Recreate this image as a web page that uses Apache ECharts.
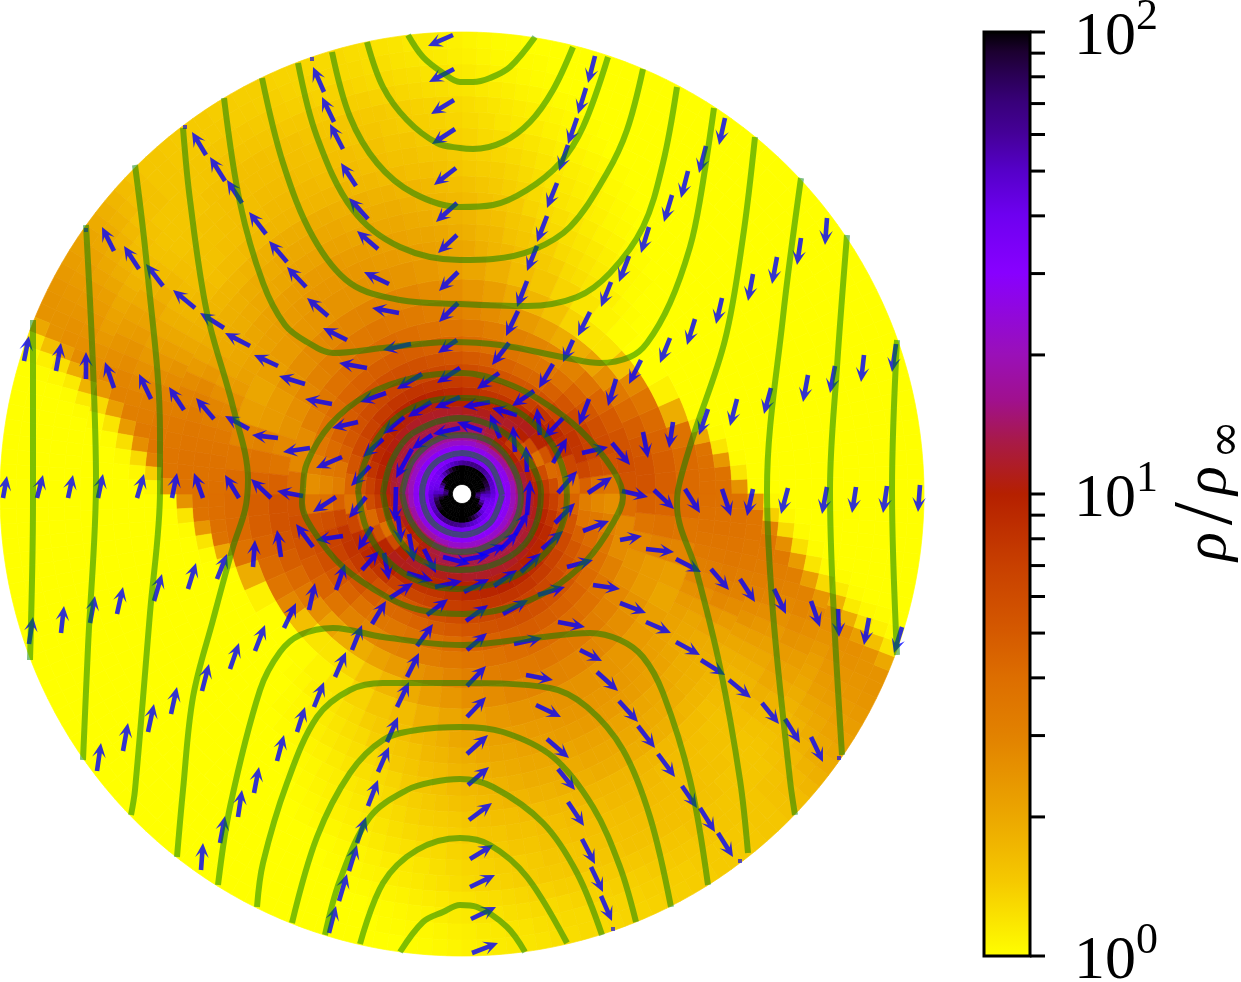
<!DOCTYPE html>
<html>
<head>
<meta charset="utf-8">
<script src="https://cdn.jsdelivr.net/npm/echarts@6/dist/echarts.min.js"></script>
<style>
  html, body { margin: 0; background: #fff; }
  #chart { width: 1241px; height: 982px; }
</style>
</head>
<body>
<div id="chart"></div>
<script>
// colour scale
const cbValues = [1, 1.47, 2, 3, 4, 5, 7, 10, 13, 16, 20, 30, 40, 50, 60, 70, 80, 90, 100]
const cbColors = ['#FFFF00', '#F5C800', '#ECA800', '#E28200', '#DD6E00', '#D55A00', '#C84000', '#B52000', '#A81A48', '#A0108F',
  '#9A10B8', '#8800FF', '#6E00F0', '#5500C8', '#450098', '#38007A', '#2A0055', '#1C0030', '#000000']
const cbTicks = [1, 2, 3, 4, 5, 6, 7, 8, 9, 10, 20, 30, 40, 50, 60, 70, 80, 90, 100]
const cbLabels = [1, 10, 100]

// disc centre and polar rings of the density map. The field is point symmetric,
// so each ring holds the half turn from east going anticlockwise.
// ringCells = cells in the half turn, ringStart = first stored cell, cells not stored are rho = 1
const discCentre = [462, 494]
const ringEdges = [9.5, 14, 19, 24, 29, 34, 39, 44, 49, 54, 60, 66, 72, 80, 88, 97, 107, 118, 130, 143, 158, 175, 194, 215, 238, 254, 270, 286, 302, 318, 334, 350, 366, 382, 398, 414, 430, 446, 462]
const ringCells = [12, 24, 24, 24, 24, 12, 12, 12, 12, 12, 18, 18, 18, 18, 18, 18, 18, 24, 24, 24, 24, 30, 30, 30, 60, 60, 60, 60, 72, 72, 72, 72, 72, 96, 96, 96, 96, 96]
const ringStart = [0, 0, 0, 0, 0, 0, 0, 0, 0, 0, 0, 0, 0, 0, 0, 0, 0, 0, 0, 0, 0, 0, 0, 0, 0, 0, 0, 17, 22, 23, 24, 25, 27, 37, 39, 41, 42, 44]
const rhoRings = [
  [100, 100, 100, 100, 100, 100, 100, 100, 100, 100, 100, 100],
  [80, 100, 100, 100, 100, 100, 100, 100, 100, 100, 100, 100, 100, 100, 100, 100, 100, 100, 100, 100, 100, 100, 80, 70],
  [70, 90, 100, 100, 100, 100, 100, 100, 100, 100, 100, 100, 100, 100, 100, 100, 100, 100, 100, 95, 75, 55, 45, 50],
  [60, 75, 85, 90, 95, 100, 100, 100, 100, 100, 100, 100, 100, 100, 95, 85, 70, 55, 45, 40, 38, 40, 42, 50],
  [46, 48, 50, 52, 55, 58, 62, 65, 66, 66, 64, 62, 58, 54, 50, 46, 42, 40, 38, 36, 36, 38, 40, 43],
  [31, 31, 32, 33, 36, 38, 36, 34, 32, 30, 30, 30],
  [30, 29, 28, 28, 29, 30, 30, 30, 30, 30, 30, 30],
  [28, 27, 26, 26, 27, 29, 29, 29, 29, 29, 28, 28],
  [20, 18, 17, 18, 20, 22, 22, 22, 22, 22, 21, 20],
  [15, 14, 13, 13, 15, 17, 17, 17, 17, 17, 16, 16],
  [12.5, 12, 11, 10, 9.5, 10.5, 12.5, 14, 14, 14, 14, 14, 14, 14, 14, 14, 13.5, 13],
  [11, 10.5, 9, 7.5, 7.5, 10, 12, 13, 13, 13, 13, 13, 13, 13, 12.5, 12.5, 12, 12],
  [9.5, 8.5, 6.5, 5, 7, 10.5, 12, 12, 12, 12, 12.5, 12.5, 12.5, 12, 12, 11.5, 11, 10.5],
  [7.5, 6, 3.8, 6, 10, 11.5, 11.5, 11, 11, 11.5, 11.5, 11.5, 11.5, 11, 10.5, 10, 9.5, 8.5],
  [6, 4.2, 5.5, 9.5, 11, 11, 10, 9.5, 10, 10, 10.5, 10.5, 10.5, 10, 9.5, 9, 8, 7],
  [4.2, 4.4, 8, 10, 10, 8.8, 8, 8, 8.5, 9, 9.5, 9.8, 9.5, 8.8, 8, 7.2, 6.5, 5.5],
  [3.6, 6.5, 8.5, 9, 8, 7, 6.6, 6.8, 7.2, 7.5, 7.8, 8, 7.9, 7.4, 6.8, 6.2, 5.4, 4.4],
  [4.6, 6.5, 7.8, 8, 7.5, 6.5, 5.6, 5.2, 5.2, 5.4, 5.7, 6, 6.2, 6.4, 6.6, 6.8, 6.7, 6.4, 6, 5.6, 5.2, 4.6, 3.6, 3.2],
  [3.8, 5.8, 6.8, 6.8, 6.2, 5.4, 4.7, 4.3, 4.3, 4.5, 4.8, 5, 5.3, 5.5, 5.7, 5.8, 5.7, 5.5, 5.2, 4.9, 4.5, 4.1, 3.4, 2.8],
  [3.5, 5.5, 6, 5.8, 5.2, 4.5, 3.8, 3.5, 3.5, 3.7, 3.9, 4.1, 4.4, 4.6, 4.8, 4.9, 4.8, 4.6, 4.4, 4.1, 3.8, 3.5, 3.1, 2.6],
  [5.5, 5.8, 5.5, 5, 4.4, 3.6, 3, 2.8, 2.9, 3, 3.2, 3.4, 3.6, 3.8, 4, 4.1, 4.1, 4, 3.8, 3.5, 3.1, 2.7, 2.8, 4],
  [5.5, 5.5, 5.2, 4.8, 4.2, 3.4, 2.6, 2.1, 1.9, 1.9, 2.1, 2.3, 2.5, 2.7, 2.9, 3.1, 3.2, 3.3, 3.4, 3.5, 3.4, 3.3, 3.2, 3, 2.8, 2.6, 2.5, 2.8, 3.6, 4.6],
  [4.8, 4.8, 4.5, 4.2, 3.6, 2.8, 1.6, 1.2, 1.2, 1.35, 1.55, 1.75, 1.95, 2.2, 2.4, 2.6, 2.7, 2.85, 2.9, 2.95, 2.9, 2.85, 2.75, 2.65, 2.5, 2.3, 2.3, 3, 3.8, 4.4],
  [4.2, 4.2, 3.8, 1.9, 1.1, 1, 1, 1.02, 1.08, 1.2, 1.35, 1.5, 1.65, 1.85, 2.05, 2.2, 2.35, 2.45, 2.5, 2.5, 2.5, 2.45, 2.4, 2.3, 2.2, 2.05, 2.2, 2.9, 3.6, 4.1],
  [4, 4, 3.9, 3.7, 2, 1.15, 1, 1, 1, 1, 1, 1, 1, 1, 1, 1.02, 1.05, 1.1, 1.15, 1.2, 1.25, 1.3, 1.4, 1.45, 1.5, 1.6, 1.7, 1.75, 1.85, 2, 2.05, 2.1, 2.15, 2.2, 2.25, 2.3, 2.3, 2.35, 2.4, 2.4, 2.4, 2.4, 2.4, 2.35, 2.3, 2.25, 2.2, 2.15, 2.1, 2.1, 2.15, 2.3, 2.55, 2.85, 3.15, 3.4, 3.6, 3.75, 3.85, 3.95],
  [3.9, 3.8, 2.4, 1.2, 1.02, 1, 1, 1, 1, 1, 1, 1, 1, 1, 1, 1, 1.02, 1.05, 1.1, 1.15, 1.2, 1.25, 1.3, 1.4, 1.45, 1.5, 1.55, 1.7, 1.75, 1.85, 1.9, 2, 2.05, 2.05, 2.1, 2.15, 2.2, 2.25, 2.25, 2.3, 2.3, 2.3, 2.3, 2.25, 2.2, 2.15, 2.1, 2.05, 2, 2, 2.05, 2.25, 2.6, 2.9, 3.2, 3.45, 3.6, 3.75, 3.8, 3.9],
  [2.5, 1.2, 1.02, 1, 1, 1, 1, 1, 1, 1, 1, 1, 1, 1, 1, 1, 1.02, 1.04, 1.08, 1.12, 1.16, 1.2, 1.25, 1.3, 1.35, 1.45, 1.5, 1.6, 1.65, 1.75, 1.8, 1.85, 1.9, 1.95, 2, 2, 2.05, 2.05, 2.1, 2.1, 2.1, 2.1, 2.1, 2.05, 2, 2, 1.95, 1.9, 1.9, 1.95, 2.1, 2.4, 2.8, 3.1, 3.3, 3.5, 3.6, 3.7, 3.8, 3.8],
  [1.02, 1.04, 1.08, 1.1, 1.15, 1.2, 1.25, 1.3, 1.35, 1.45, 1.5, 1.55, 1.65, 1.7, 1.75, 1.8, 1.85, 1.9, 1.9, 1.95, 1.95, 2, 2, 2, 2, 2, 1.95, 1.95, 1.9, 1.85, 1.85, 1.85, 1.9, 2.05, 2.3, 2.7, 3, 3.2, 3.4, 3.5, 3.6, 3.6, 2.4],
  [1.02, 1.04, 1.06, 1.1, 1.13, 1.17, 1.2, 1.25, 1.3, 1.35, 1.4, 1.45, 1.5, 1.55, 1.6, 1.65, 1.7, 1.75, 1.75, 1.8, 1.8, 1.85, 1.85, 1.85, 1.9, 1.9, 1.9, 1.9, 1.9, 1.85, 1.85, 1.8, 1.75, 1.75, 1.75, 1.75, 1.8, 1.85, 2, 2.2, 2.5, 2.7, 3, 3.2, 3.3, 3.45, 3.55, 3, 1.4, 1.05],
  [1.02, 1.04, 1.07, 1.1, 1.13, 1.17, 1.2, 1.25, 1.3, 1.35, 1.4, 1.42, 1.45, 1.5, 1.55, 1.6, 1.6, 1.65, 1.65, 1.7, 1.7, 1.75, 1.75, 1.75, 1.75, 1.75, 1.75, 1.75, 1.7, 1.7, 1.65, 1.65, 1.6, 1.65, 1.7, 1.75, 1.85, 2, 2.2, 2.4, 2.65, 2.9, 3.1, 3.2, 3.35, 2.6, 1.3, 1.05],
  [1.02, 1.04, 1.07, 1.1, 1.13, 1.17, 1.2, 1.25, 1.3, 1.33, 1.37, 1.4, 1.45, 1.5, 1.5, 1.55, 1.55, 1.6, 1.6, 1.65, 1.65, 1.65, 1.7, 1.7, 1.7, 1.7, 1.65, 1.65, 1.6, 1.6, 1.55, 1.55, 1.6, 1.65, 1.75, 1.85, 2, 2.15, 2.35, 2.55, 2.8, 3, 3.15, 2.3, 1.25, 1.03],
  [1.02, 1.04, 1.06, 1.09, 1.12, 1.16, 1.2, 1.23, 1.27, 1.3, 1.35, 1.38, 1.42, 1.45, 1.5, 1.5, 1.55, 1.55, 1.6, 1.6, 1.6, 1.62, 1.65, 1.65, 1.65, 1.62, 1.6, 1.58, 1.55, 1.55, 1.55, 1.6, 1.7, 1.85, 2, 2.1, 2.3, 2.5, 2.7, 2.9, 3, 2.2, 1.2, 1.02],
  [1.02, 1.04, 1.07, 1.1, 1.14, 1.17, 1.2, 1.25, 1.3, 1.33, 1.37, 1.4, 1.42, 1.45, 1.5, 1.5, 1.52, 1.55, 1.55, 1.58, 1.6, 1.6, 1.6, 1.6, 1.58, 1.55, 1.55, 1.52, 1.52, 1.55, 1.65, 1.8, 1.95, 2.1, 2.25, 2.45, 2.6, 2.8, 2.4, 1.3, 1.03],
  [1.02, 1.03, 1.05, 1.07, 1.09, 1.12, 1.14, 1.17, 1.2, 1.23, 1.27, 1.3, 1.33, 1.35, 1.37, 1.4, 1.42, 1.45, 1.45, 1.47, 1.5, 1.5, 1.52, 1.52, 1.55, 1.55, 1.55, 1.58, 1.58, 1.58, 1.58, 1.55, 1.55, 1.52, 1.5, 1.5, 1.5, 1.52, 1.55, 1.62, 1.7, 1.8, 1.9, 2, 2.1, 2.2, 2.35, 2.5, 2.6, 2.65, 1.8, 1.15, 1.02],
  [1.02, 1.03, 1.05, 1.07, 1.09, 1.12, 1.14, 1.17, 1.2, 1.22, 1.25, 1.27, 1.3, 1.32, 1.35, 1.37, 1.4, 1.4, 1.42, 1.45, 1.45, 1.47, 1.47, 1.5, 1.5, 1.52, 1.52, 1.55, 1.55, 1.52, 1.5, 1.5, 1.5, 1.5, 1.5, 1.55, 1.6, 1.65, 1.8, 1.9, 2.05, 2.2, 2.3, 2.4, 2.5, 2.6, 2.7, 1.9, 1.15, 1.02],
  [1.02, 1.03, 1.05, 1.07, 1.09, 1.12, 1.15, 1.17, 1.2, 1.22, 1.25, 1.27, 1.3, 1.3, 1.32, 1.35, 1.37, 1.37, 1.4, 1.4, 1.42, 1.45, 1.45, 1.47, 1.47, 1.5, 1.5, 1.5, 1.5, 1.5, 1.5, 1.55, 1.55, 1.6, 1.7, 1.8, 1.9, 2, 2.1, 2.25, 2.35, 2.45, 2.55, 2.6, 2.2, 1.25, 1.05],
  [1.02, 1.03, 1.04, 1.05, 1.07, 1.1, 1.12, 1.15, 1.17, 1.2, 1.22, 1.25, 1.27, 1.3, 1.3, 1.32, 1.35, 1.35, 1.37, 1.4, 1.4, 1.42, 1.42, 1.45, 1.45, 1.45, 1.47, 1.47, 1.5, 1.5, 1.55, 1.6, 1.7, 1.8, 1.9, 2, 2.1, 2.2, 2.3, 2.4, 2.45, 2.5, 2.5, 1.6, 1.1, 1.02],
  [1.02, 1.03, 1.05, 1.07, 1.1, 1.12, 1.15, 1.17, 1.2, 1.22, 1.25, 1.27, 1.3, 1.3, 1.32, 1.35, 1.35, 1.37, 1.4, 1.4, 1.42, 1.42, 1.45, 1.45, 1.45, 1.47, 1.5, 1.5, 1.55, 1.65, 1.75, 1.85, 1.95, 2.05, 2.15, 2.25, 2.35, 2.45, 2.5, 2.5, 2, 1.2, 1.03]
]

// streamlines, [x, y] in plot units
const streamLines = [
  [[408, 35], [423, 57], [443, 73], [460, 82], [473, 82], [490, 78], [510, 67], [535, 37]],
  [[367, 42], [383, 87], [407, 120], [437, 143], [460, 148], [473, 149], [503, 142], [530, 122], [553, 90], [573, 47]],
  [[332, 52], [350, 117], [377, 163], [413, 193], [460, 207], [493, 205], [527, 190], [560, 163], [583, 127], [608, 57]],
  [[298, 63], [317, 137], [353, 210], [400, 247], [460, 260], [493, 259], [533, 250], [570, 227], [607, 173], [627, 130], [643, 69]],
  [[262, 78], [283, 163], [313, 237], [350, 283], [400, 300], [460, 304], [527, 306], [577, 297], [610, 273], [643, 227], [663, 163], [677, 87]],
  [[224, 98], [240, 203], [263, 283], [285, 325], [307, 342], [333, 353], [383, 348], [450, 342], [500, 345], [567, 358], [600, 363], [630, 357], [647, 343], [670, 303], [690, 247], [700, 200], [714, 108]],
  [[183, 128], [190, 200], [207, 313], [233, 407], [248, 480], [245, 510], [233, 547], [213, 620], [193, 697], [183, 790], [177, 857]],
  [[135, 165], [147, 267], [160, 433], [160, 490], [150, 613], [135, 790], [131, 815]],
  [[86, 225], [93, 367], [96, 480], [88, 647], [83, 760]],
  [[33, 320], [33, 500], [30, 660]],
  [[218, 885], [230, 807], [260, 690], [280, 652], [300, 635], [333, 628], [383, 637], [460, 645], [533, 638], [590, 633], [620, 640], [643, 657], [663, 693], [690, 780], [708, 885]],
  [[257, 907], [263, 863], [287, 783], [317, 717], [350, 690], [383, 683], [460, 683], [550, 688], [587, 707], [623, 750], [650, 817], [671, 907]],
  [[292, 923], [317, 837], [350, 773], [383, 740], [417, 730], [460, 727], [503, 732], [553, 757], [593, 807], [620, 867], [636, 922]],
  [[325, 935], [340, 880], [370, 817], [407, 790], [433, 782], [460, 779], [493, 787], [543, 823], [577, 873], [602, 935]],
  [[360, 944], [383, 883], [417, 850], [460, 838], [490, 845], [527, 877], [567, 943]],
  [[400, 952], [423, 922], [443, 912], [460, 905], [477, 907], [507, 927], [525, 952]],
  [[755, 137], [743, 237], [725, 340], [692, 440], [678, 490], [677, 505], [697, 573], [720, 667], [740, 780], [748, 853]],
  [[801, 178], [783, 317], [767, 490], [773, 613], [790, 780], [795, 815]],
  [[847, 235], [837, 367], [830, 490], [833, 597], [842, 755]],
  [[897, 340], [892, 490], [897, 655]],
  [[303, 488], [307, 463], [330, 425], [367, 395], [413, 378], [463, 373], [503, 382], [540, 400], [580, 430], [613, 470], [623, 497], [613, 523], [587, 560], [550, 590], [507, 608], [463, 614], [420, 610], [387, 597], [343, 567], [313, 530], [302, 503], [303, 488]],
  [[358, 490], [367, 457], [390, 423], [423, 403], [463, 398], [500, 403], [533, 423], [557, 453], [567, 497], [557, 537], [530, 567], [497, 583], [457, 589], [423, 583], [390, 563], [367, 530], [358, 490]],
  [[383, 493], [392, 460], [413, 433], [460, 418], [500, 430], [527, 457], [541, 493], [530, 537], [500, 562], [460, 570], [420, 560], [393, 530], [383, 493]],
  [[402, 493], [413, 460], [440, 438], [463, 435], [493, 443], [513, 467], [521, 497], [510, 530], [483, 548], [460, 552], [430, 543], [410, 520], [402, 493]],
  [[502, 495], [490, 465], [462, 453], [433, 465], [422, 494], [433, 523], [462, 535], [490, 523], [502, 495]]
]

// velocity arrows, [tailX, tailY, headX, headY] in plot units
const arrows = [
  [453, 35, 428, 46], [454, 69, 429, 82], [454, 100, 431, 114], [455, 129, 432, 144], [456, 168, 434, 185], [457, 203, 436, 222], [457, 235, 438, 253], [458, 272, 439, 291], [458, 303, 439, 322], [457, 340, 438, 353], [460, 368, 437, 383],
  [324, 92, 313, 67], [334, 122, 322, 97], [343, 149, 330, 124], [356, 186, 341, 163], [368, 219, 349, 198], [378, 249, 357, 231], [389, 284, 364, 272], [399, 313, 372, 308], [367, 368, 339, 363], [332, 404, 305, 399],
  [305, 384, 279, 376], [278, 366, 254, 355], [250, 346, 225, 333], [224, 328, 200, 313], [195, 308, 173, 290], [163, 286, 146, 264], [139, 269, 124, 246], [114, 251, 102, 227],
  [206, 155, 192, 132], [225, 181, 210, 157], [242, 203, 227, 180], [266, 234, 249, 212], [287, 262, 269, 241], [306, 287, 287, 267], [328, 316, 307, 298], [347, 340, 323, 328],
  [310, 448, 283, 452], [278, 438, 252, 435], [249, 429, 225, 416], [214, 419, 196, 398], [184, 410, 169, 387], [151, 399, 139, 374], [114, 388, 105, 362], [86, 379, 86, 352], [56, 371, 61, 343], [24, 361, 29, 336],
  [303, 496, 277, 491], [271, 498, 251, 479], [239, 498, 225, 475], [203, 498, 194, 473], [172, 498, 177, 473], [137, 498, 144, 474], [98, 498, 103, 474], [68, 498, 73, 475], [37, 498, 43, 475], [3, 498, 7, 476],
  [253, 567, 255, 540], [281, 557, 277, 530], [313, 547, 296, 524], [217, 579, 227, 554], [188, 589, 196, 563], [154, 601, 162, 574], [117, 614, 123, 587], [90, 623, 95, 596], [61, 633, 64, 606], [29, 644, 33, 617],
  [284, 628, 296, 603], [255, 651, 265, 625], [230, 669, 239, 643], [202, 691, 209, 664], [171, 714, 177, 687], [148, 732, 154, 704], [123, 751, 128, 723], [97, 771, 101, 743],
  [309, 610, 315, 583], [336, 590, 345, 564], [362, 570, 379, 551], [372, 624, 386, 601], [390, 598, 413, 583],
  [201, 870, 203, 843], [220, 843, 225, 816], [238, 817, 242, 790], [254, 793, 259, 767], [277, 761, 284, 735], [297, 732, 305, 707], [314, 707, 324, 682], [335, 677, 346, 652], [352, 650, 362, 625],
  [329, 933, 336, 906], [339, 901, 347, 874], [349, 871, 357, 845], [357, 843, 366, 817], [368, 806, 378, 780], [378, 772, 389, 747], [387, 742, 398, 717], [397, 707, 409, 682], [407, 677, 419, 653], [417, 646, 433, 624], [427, 615, 448, 599],
  [472, 953, 498, 943], [471, 919, 496, 907], [470, 887, 495, 875], [470, 859, 493, 845], [469, 820, 492, 803], [468, 785, 489, 767], [467, 754, 488, 735], [467, 717, 486, 697], [467, 686, 486, 666], [467, 650, 487, 633], [466, 621, 488, 605], [464, 592, 489, 579], [435, 587, 462, 581],
  [443, 557, 470, 564], [463, 560, 490, 555], [407, 573, 433, 581], [424, 549, 436, 573], [409, 534, 414, 562], [398, 516, 401, 543], [396, 487, 395, 522], [412, 449, 396, 478], [432, 435, 412, 449], [460, 428, 433, 434], [482, 431, 457, 422],
  [480, 555, 505, 545], [500, 550, 518, 532], [515, 535, 528, 512], [527, 515, 530, 480], [527, 472, 526, 446], [515, 452, 513, 426], [500, 438, 490, 414], [517, 415, 492, 408], [490, 402, 463, 407], [460, 397, 435, 408], [431, 402, 408, 417], [404, 417, 383, 434], [383, 439, 363, 457], [370, 466, 351, 486], [366, 497, 349, 518], [372, 527, 358, 550], [384, 553, 389, 580],
  [494, 586, 517, 570], [521, 572, 541, 553], [542, 549, 563, 531], [555, 523, 575, 503], [558, 493, 577, 471], [553, 463, 567, 438], [540, 435, 537, 408], [563, 418, 544, 438], [534, 391, 512, 406], [499, 373, 477, 389], [553, 364, 539, 388], [509, 343, 492, 365], [589, 399, 579, 425], [616, 379, 608, 406],
  [612, 443, 630, 465], [582, 453, 608, 447], [588, 493, 612, 477], [583, 531, 609, 521], [620, 540, 642, 536], [567, 567, 593, 560], [538, 595, 565, 587], [503, 614, 528, 600], [593, 585, 620, 589], [558, 622, 585, 627], [514, 644, 542, 638],
  [342, 457, 316, 468], [336, 497, 313, 512], [343, 536, 316, 540], [358, 422, 332, 428], [386, 393, 360, 402], [422, 374, 397, 389], [411, 344, 383, 350],
  [595, 56, 588, 83], [586, 88, 578, 114], [577, 118, 568, 144], [568, 145, 559, 171], [557, 183, 547, 208], [547, 216, 537, 242], [537, 246, 527, 271], [527, 281, 517, 307], [518, 311, 506, 336],
  [725, 118, 719, 145], [706, 146, 699, 173], [688, 171, 681, 198], [672, 195, 664, 222], [649, 227, 641, 253], [629, 256, 619, 282], [611, 282, 601, 307], [590, 312, 578, 336], [573, 340, 563, 362],
  [827, 218, 825, 245], [801, 238, 797, 265], [777, 257, 772, 284], [753, 274, 748, 301], [722, 298, 716, 324], [695, 319, 687, 345], [670, 338, 660, 363], [641, 360, 629, 384],
  [896, 344, 892, 372], [864, 355, 861, 382], [835, 366, 830, 393], [808, 375, 803, 402], [771, 388, 764, 414], [737, 399, 730, 426], [708, 409, 699, 435], [673, 422, 669, 448], [643, 432, 648, 458],
  [920, 485, 918, 512], [887, 486, 883, 513], [856, 487, 852, 513], [827, 487, 822, 514], [788, 488, 781, 514], [753, 489, 747, 516], [722, 489, 731, 516], [685, 489, 700, 513], [654, 490, 674, 509], [622, 491, 648, 497],
  [646, 549, 674, 552], [676, 559, 701, 572], [711, 569, 729, 590], [740, 579, 755, 602], [774, 589, 786, 614], [811, 601, 820, 627], [838, 609, 839, 637], [869, 618, 864, 645], [902, 627, 894, 653],
  [620, 603, 646, 613], [646, 622, 671, 633], [676, 642, 700, 655], [701, 660, 725, 675], [729, 680, 751, 698], [762, 703, 779, 724], [785, 719, 800, 743], [811, 737, 823, 762],
  [526, 675, 553, 680], [536, 705, 561, 717], [547, 739, 569, 758], [558, 769, 575, 790], [568, 802, 584, 826], [582, 839, 595, 864], [591, 867, 603, 892], [601, 896, 612, 921],
  [580, 650, 602, 661], [597, 672, 618, 691], [619, 701, 638, 722], [638, 726, 655, 748], [658, 754, 675, 777], [682, 786, 697, 808], [700, 808, 715, 832], [718, 833, 733, 857]
]
const arrowStubs = [[185, 127], [312, 59], [86, 230], [613, 929], [740, 861], [839, 758]]

function rhoColor(v) {
    let i = 0
    while (i < cbValues.length - 2 && v > cbValues[i + 1]) i++
    let f = (Math.log10(v) - Math.log10(cbValues[i])) / (Math.log10(cbValues[i + 1]) - Math.log10(cbValues[i]))
    return echarts.color.lerp(Math.min(1, Math.max(0, f)), [cbColors[i], cbColors[i + 1]])
}

// [rIn, rOut, angleStart, angleEnd, rho], each stored half turn is drawn at both sides of the centre
const cells = []
rhoRings.forEach((ring, r) => {
    let step = 180 / ringCells[r]
    for (let k = 0; k < ringCells[r]; k++) {
        let rho = ring[k - ringStart[r]] || 1
        cells.push([ringEdges[r], ringEdges[r + 1], k * step, (k + 1) * step, rho])
        cells.push([ringEdges[r], ringEdges[r + 1], 180 + k * step, 180 + (k + 1) * step, rho])
    }
})

function renderCell(params, api) {
    let rIn = api.value(0), rOut = api.value(1), a0 = api.value(2), a1 = api.value(3)
    let pts = []
    for (let j = 0; j <= 3; j++) {
        let a = (a0 + (a1 - a0) * j / 3) * Math.PI / 180
        pts.push(api.coord([discCentre[0] + rOut * Math.cos(a), discCentre[1] - rOut * Math.sin(a)]))
    }
    for (let j = 3; j >= 0; j--) {
        let a = (a0 + (a1 - a0) * j / 3) * Math.PI / 180
        pts.push(api.coord([discCentre[0] + rIn * Math.cos(a), discCentre[1] - rIn * Math.sin(a)]))
    }
    let c = rhoColor(api.value(4))
    return { type: 'polygon', shape: { points: pts }, style: { fill: c, stroke: c, lineWidth: 0.7 } }
}

function renderArrow(params, api) {
    let t = api.coord([api.value(0), api.value(1)])
    let h = api.coord([api.value(2), api.value(3)])
    let dx = h[0] - t[0], dy = h[1] - t[1]
    let len = Math.sqrt(dx * dx + dy * dy)
    let ux = dx / len, uy = dy / len
    let at = (s, w) => [t[0] + ux * s - uy * w, t[1] + uy * s + ux * w]
    return {
        type: 'polygon',
        shape: { points: [at(0, 2.3), at(len - 10, 2.3), at(len - 14.5, 6.8), at(len, 0), at(len - 14.5, -6.8), at(len - 10, -2.3), at(0, -2.3)] },
        style: { fill: 'rgba(0,0,255,0.8)' }
    }
}

function renderBar(params, api) {
    let top = api.coord([0, api.value(1)])
    let bottom = api.coord([1, api.value(0)])
    let logMax = Math.log10(cbValues[cbValues.length - 1])
    return {
        type: 'rect',
        shape: { x: top[0], y: top[1], width: bottom[0] - top[0], height: bottom[1] - top[1] },
        style: {
            fill: new echarts.graphic.LinearGradient(0, 1, 0, 0, cbValues.map((v, i) => ({ offset: Math.log10(v) / logMax, color: cbColors[i] }))),
            stroke: '#000',
            lineWidth: 3
        }
    }
}

function renderBarTick(params, api) {
    let p = api.coord([1, api.value(0)])
    return { type: 'line', shape: { x1: p[0], y1: p[1], x2: p[0] + 15, y2: p[1] }, style: { stroke: '#000', lineWidth: 3 } }
}

let chart = echarts.init(document.getElementById('chart'), null, { renderer: 'canvas' })

let series = [
    { type: 'custom', coordinateSystem: 'cartesian2d', xAxisIndex: 0, yAxisIndex: 0, data: cells, encode: { x: 0, y: 1 }, renderItem: renderCell, silent: true, z: 1, progressive: 0 },
    { type: 'custom', coordinateSystem: 'cartesian2d', xAxisIndex: 0, yAxisIndex: 0, data: arrows, encode: { x: [0, 2], y: [1, 3] }, renderItem: renderArrow, silent: true, z: 2 },
    { type: 'scatter', xAxisIndex: 0, yAxisIndex: 0, data: arrowStubs, symbol: 'rect', symbolSize: 4, itemStyle: { color: 'rgba(0,0,255,0.8)' }, silent: true, z: 2 },
    { type: 'custom', coordinateSystem: 'cartesian2d', xAxisIndex: 1, yAxisIndex: 1, data: [[1, 100]], encode: { y: [0, 1] }, renderItem: renderBar, silent: true, z: 2, clip: false },
    { type: 'custom', coordinateSystem: 'cartesian2d', xAxisIndex: 1, yAxisIndex: 1, data: cbTicks.map(v => [v]), encode: { y: 0 }, renderItem: renderBarTick, silent: true, z: 2, clip: false }
]
streamLines.forEach(line => {
    series.push({
        type: 'line', xAxisIndex: 0, yAxisIndex: 0, data: line, smooth: 0.35, showSymbol: false, silent: true, z: 3,
        lineStyle: { color: 'rgba(0,128,0,0.5)', width: 6, cap: 'butt' }
    })
})

chart.setOption({
    animation: false,
    backgroundColor: '#fff',
    grid: [
        { left: 0, top: 0, width: 924, height: 982, outerBoundsMode: 'none' },
        { left: 984, top: 32, width: 46, height: 924, outerBoundsMode: 'none' }
    ],
    xAxis: [
        { type: 'value', min: 0, max: 924, show: false, gridIndex: 0 },
        { type: 'value', min: 0, max: 1, show: false, gridIndex: 1 }
    ],
    yAxis: [
        { type: 'value', min: 0, max: 982, inverse: true, show: false, gridIndex: 0 },
        {
            type: 'log', logBase: 10, min: 1, max: 100, gridIndex: 1, position: 'right',
            axisLine: { show: false },
            splitLine: { show: false },
            axisTick: { show: false },
            axisLabel: {
                show: true, margin: 44, align: 'left', customValues: cbLabels,
                formatter: v => '{a|10}{s|' + Math.round(Math.log10(v)) + '}',
                rich: {
                    a: { fontFamily: 'Liberation Serif', fontSize: 62, color: '#000', padding: [12, 0, 0, 0] },
                    s: { fontFamily: 'Liberation Serif', fontSize: 44, color: '#000', verticalAlign: 'top' }
                }
            },
            name: '{r|ρ}{l|/}{r|ρ}{s|∞}',
            nameLocation: 'middle',
            nameGap: 137,
            nameRotate: 90,
            nameTextStyle: {
                rich: {
                    r: { fontFamily: 'Liberation Serif', fontStyle: 'italic', fontSize: 60, color: '#000', padding: [0, 7, 0, 7] },
                    l: { fontFamily: 'Liberation Serif', fontSize: 84, color: '#000' },
                    s: { fontFamily: 'DejaVu Serif', fontSize: 47, color: '#000', verticalAlign: 'bottom' }
                }
            }
        }
    ],
    series: series
})
</script>
</body>
</html>
